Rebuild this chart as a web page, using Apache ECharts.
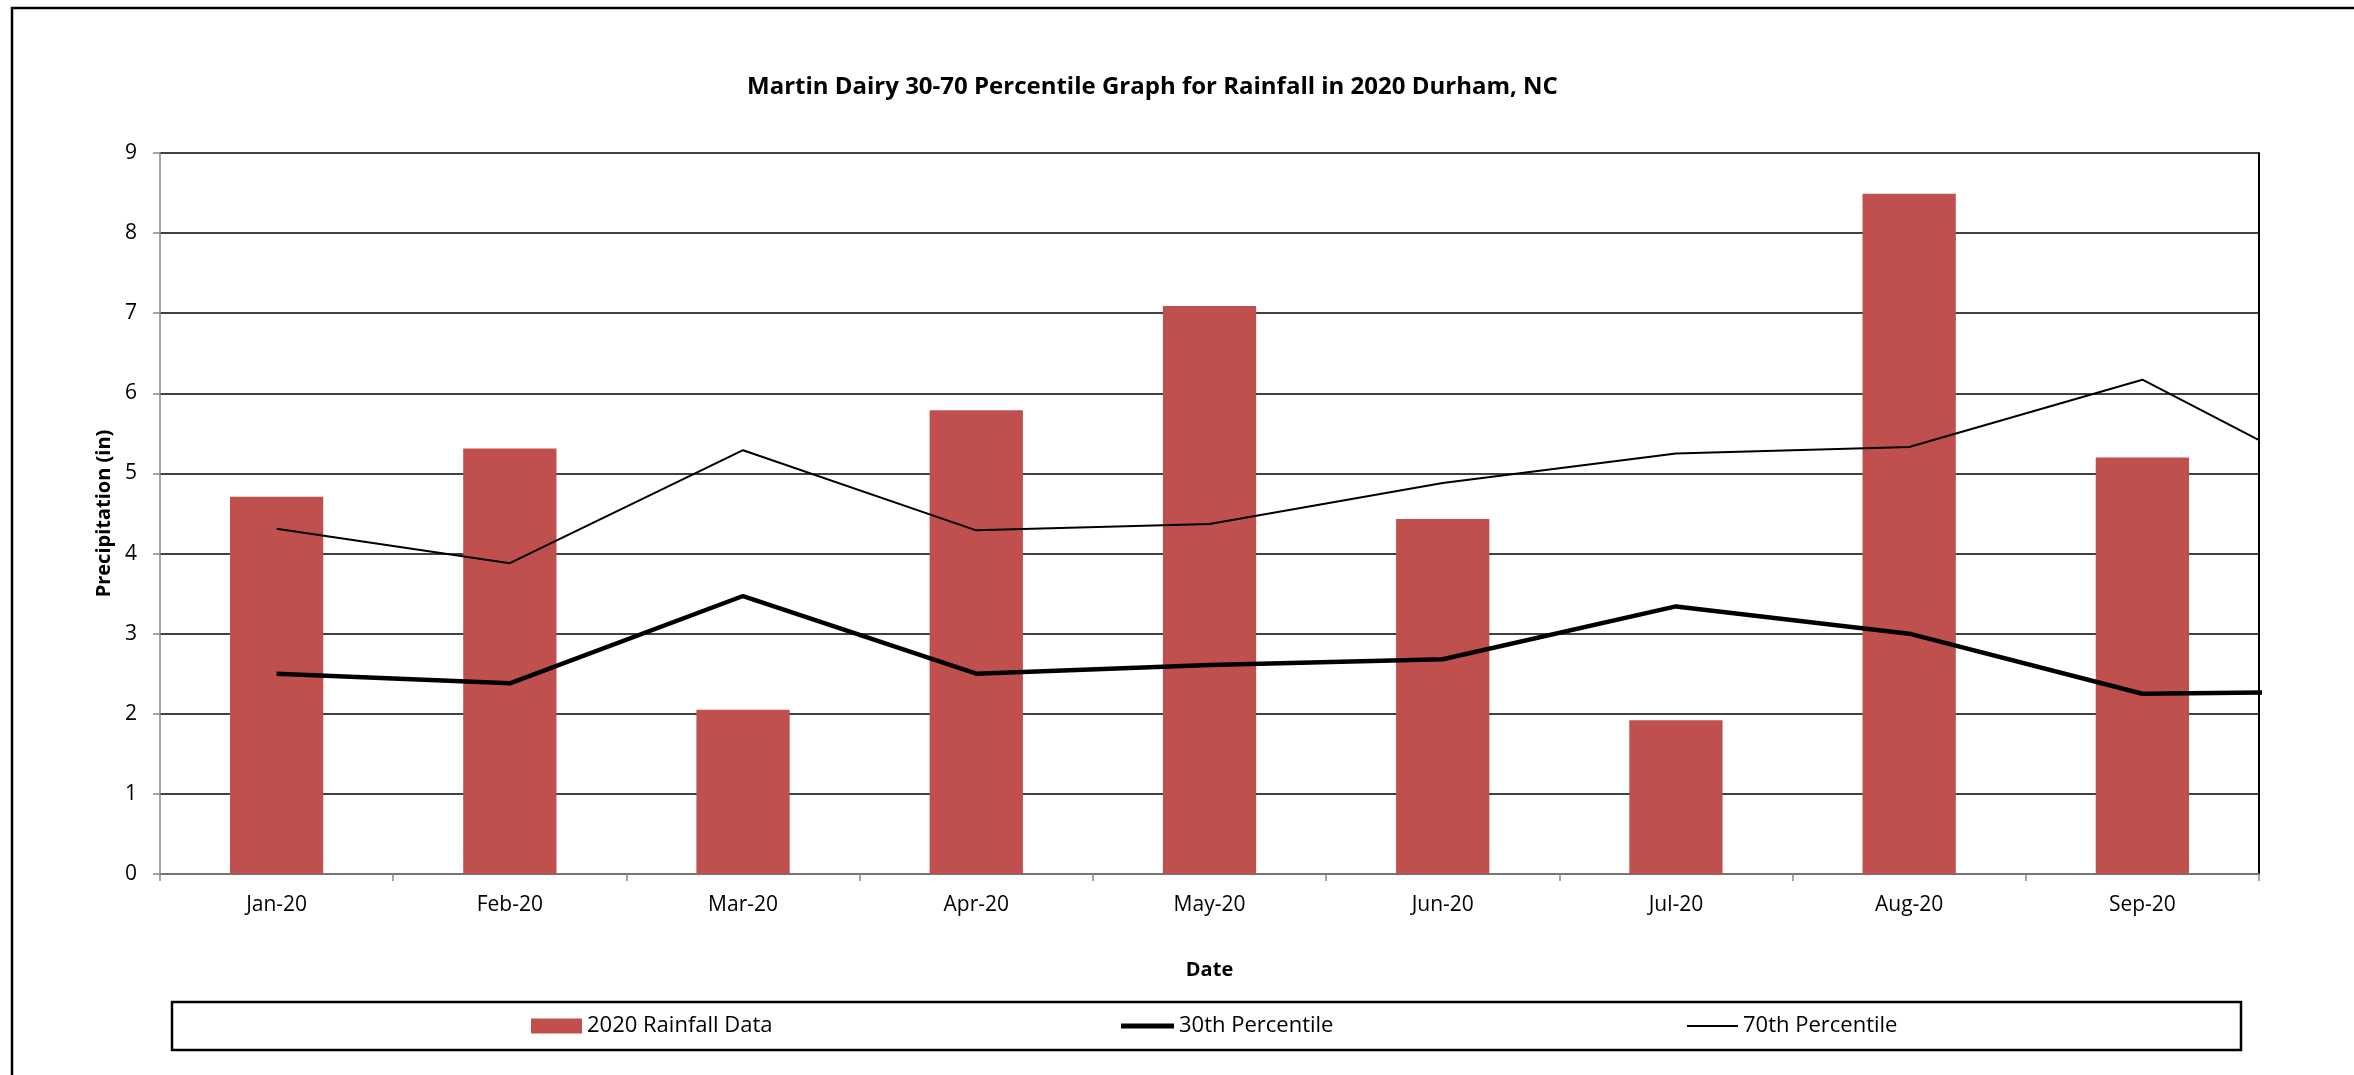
<!DOCTYPE html>
<html>
<head>
<meta charset="utf-8">
<title>Martin Dairy 30-70 Percentile Graph for Rainfall in 2020 Durham, NC</title>
<script src="https://cdn.jsdelivr.net/npm/echarts@6/dist/echarts.min.js"></script>
<style>
  html, body { margin: 0; padding: 0; background: #fff; }
  #chart { width: 2354px; height: 1075px; }
</style>
</head>
<body>
<div id="chart"></div>
<script>
// Monthly rainfall (inches) for 2020 and the long-term 30th / 70th percentiles.
const months = ['Jan-20', 'Feb-20', 'Mar-20', 'Apr-20', 'May-20', 'Jun-20', 'Jul-20', 'Aug-20', 'Sep-20'];
const rainfall2020 = [4.71, 5.31, 2.05, 5.79, 7.09, 4.43, 1.92, 8.49, 5.20];
// Percentile series run one month further (Oct-20) and are cut off at the plot edge.
const percentileMonths = ['Jan-20', 'Feb-20', 'Mar-20', 'Apr-20', 'May-20', 'Jun-20', 'Jul-20', 'Aug-20', 'Sep-20', 'Oct-20'];
const pct30 = [2.50, 2.38, 3.47, 2.50, 2.61, 2.68, 3.34, 3.00, 2.25, 2.28];
const pct70 = [4.31, 3.88, 5.29, 4.29, 4.37, 4.88, 5.25, 5.33, 6.17, 4.66];
const yTicks = [0, 1, 2, 3, 4, 5, 6, 7, 8, 9];

const titleText = 'Martin Dairy 30-70 Percentile Graph for Rainfall in 2020 Durham, NC';
const FONT = '"Open Sans", "Noto Sans", sans-serif';
const TITLE_SIZE = 24;

// centre the title over x = 1152
const measure = document.createElement('canvas').getContext('2d');
measure.font = 'bold ' + TITLE_SIZE + 'px "Open Sans"';
const titleWidth = measure.measureText(titleText).width;

// line series points: [month index, value]
const toPoints = arr => arr.map((v, i) => [i, v]);

const chart = echarts.init(document.getElementById('chart'), null, { renderer: 'canvas' });

const legendText = { fontFamily: FONT, fontSize: 22, lineHeight: 22, color: '#000' };

chart.setOption({
  animation: false,
  backgroundColor: '#ffffff',
  title: {
    text: titleText,
    left: Math.round(1152 - titleWidth / 2),
    top: 75,
    padding: 0,
    textStyle: { fontFamily: FONT, fontWeight: 'bold', fontSize: TITLE_SIZE, lineHeight: TITLE_SIZE, color: '#000' }
  },
  grid: { left: 160, right: 95, top: 153, bottom: 201 },
  legend: [
    {
      data: [{ name: '2020 Rainfall Data', icon: 'rect' }],
      left: 531, top: 1015, itemWidth: 51, itemHeight: 15, padding: 0,
      textStyle: legendText
    },
    {
      data: [{ name: '30th Percentile', icon: 'rect' }],
      left: 1121, top: 1015, itemWidth: 53, itemHeight: 5, padding: 0,
      textStyle: legendText
    },
    {
      data: [{ name: '70th Percentile', icon: 'rect' }],
      left: 1687, top: 1015, itemWidth: 51, itemHeight: 2, padding: 0,
      textStyle: legendText
    }
  ],
  xAxis: [
    {
      type: 'category',
      data: months,
      boundaryGap: true,
      name: 'Date',
      nameLocation: 'middle',
      nameGap: 86,
      nameTextStyle: { fontFamily: FONT, fontWeight: 'bold', fontSize: 20, color: '#000' },
      axisLine: { onZero: false, lineStyle: { color: '#868686', width: 1.5 } },
      axisTick: { show: true, alignWithLabel: false, length: 7, lineStyle: { color: '#868686', width: 1.5 } },
      axisLabel: { fontFamily: FONT, fontSize: 21, color: '#000', margin: 21 },
      splitLine: { show: false }
    },
    {
      type: 'value',
      min: -0.5,
      max: 8.5,
      show: false
    }
  ],
  yAxis: [
    {
      type: 'value',
      min: yTicks[0],
      max: yTicks[yTicks.length - 1],
      interval: 1,
      name: 'Precipitation (in)',
      nameLocation: 'middle',
      nameRotate: 90,
      nameGap: 44,
      nameTextStyle: { fontFamily: FONT, fontWeight: 'bold', fontSize: 20, color: '#000' },
      axisLine: { show: true, onZero: false, lineStyle: { color: '#868686', width: 1.5 } },
      axisTick: { show: true, length: 7, lineStyle: { color: '#868686', width: 1.5 } },
      axisLabel: { fontFamily: FONT, fontSize: 21, color: '#000', margin: 23 },
      splitLine: { show: true, lineStyle: { color: '#000', width: 1.5 } }
    },
    {
      type: 'value',
      position: 'right',
      min: yTicks[0],
      max: yTicks[yTicks.length - 1],
      interval: 1,
      axisLine: { show: true, onZero: false, lineStyle: { color: '#000', width: 2 } },
      axisTick: { show: false },
      axisLabel: { show: false },
      splitLine: { show: false }
    }
  ],
  series: [
    {
      name: '2020 Rainfall Data',
      type: 'bar',
      data: rainfall2020,
      barWidth: '40%',
      itemStyle: { color: '#C0504D' },
      z: 2
    },
    {
      name: '30th Percentile',
      type: 'line',
      xAxisIndex: 1,
      data: toPoints(pct30),
      symbol: 'none',
      clip: true,
      color: '#000',
      lineStyle: { color: '#000', width: 4.5 },
      z: 3
    },
    {
      name: '70th Percentile',
      type: 'line',
      xAxisIndex: 1,
      data: toPoints(pct70),
      symbol: 'none',
      clip: true,
      color: '#000',
      lineStyle: { color: '#000', width: 2 },
      z: 3
    }
  ],
  graphic: [
    {
      type: 'rect',
      shape: { x: 12, y: 8, width: 2400, height: 1200 },
      style: { fill: null, stroke: '#000', lineWidth: 2.5 },
      silent: true
    },
    {
      type: 'rect',
      shape: { x: 172, y: 1002, width: 2069, height: 48 },
      style: { fill: null, stroke: '#000', lineWidth: 2.5 },
      silent: true,
      z: -1
    }
  ]
});
</script>
</body>
</html>
